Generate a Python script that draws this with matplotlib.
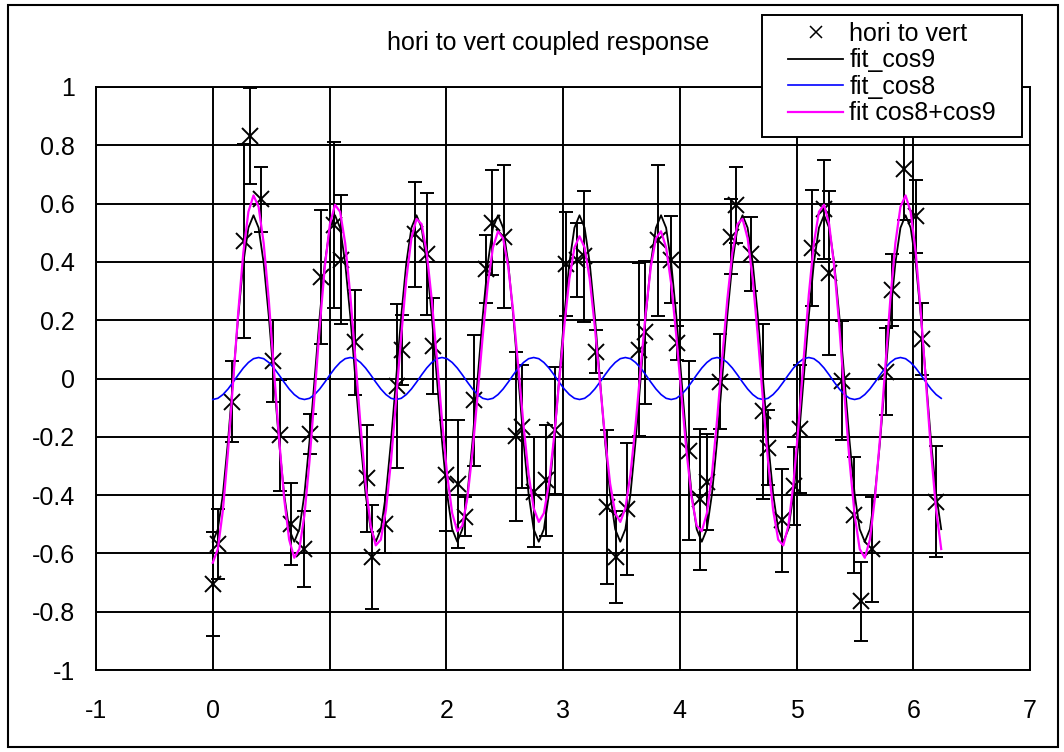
import numpy as np
import matplotlib
matplotlib.use("Agg")
import matplotlib.pyplot as plt
from matplotlib.patches import Rectangle

plt.rcParams['font.family'] = ['Liberation Sans', 'DejaVu Sans']

# ---------------- data ----------------
title = "hori to vert coupled response"
series_names = ["hori to vert", "fit_cos9", "fit_cos8", "fit cos8+cos9"]

x_ticks = [-1, 0, 1, 2, 3, 4, 5, 6, 7]
x_tick_labels = ["-1", "0", "1", "2", "3", "4", "5", "6", "7"]
y_ticks = [-1, -0.8, -0.6, -0.4, -0.2, 0, 0.2, 0.4, 0.6, 0.8, 1]
y_tick_labels = ["-1", "-0.8", "-0.6", "-0.4", "-0.2", "0", "0.2", "0.4", "0.6", "0.8", "1"]

data_x = [0.00, 0.042, 0.164, 0.269, 0.32, 0.411, 0.516, 0.572, 0.666, 0.779,
          0.83, 0.929, 1.04, 1.10, 1.217, 1.317, 1.368, 1.474, 1.574, 1.625,
          1.731, 1.831, 1.888, 2.002, 2.102, 2.16, 2.24, 2.337, 2.394, 2.494,
          2.594, 2.651, 2.751, 2.857, 2.929, 3.029, 3.123, 3.18, 3.28, 3.38,
          3.451, 3.549, 3.649, 3.706, 3.814, 3.929, 3.977, 4.08, 4.171, 4.234,
          4.343, 4.437, 4.486, 4.609, 4.709, 4.76, 4.874, 4.98, 5.031, 5.131,
          5.237, 5.28, 5.389, 5.494, 5.55, 5.65, 5.769, 5.82, 5.92, 6.02,
          6.077, 6.191]
data_y = [-0.705, -0.567, -0.079, 0.472, 0.833, 0.615, 0.059, -0.195, -0.50, -0.586,
          -0.191, 0.349, 0.527, 0.408, 0.125, -0.343, -0.613, -0.50, -0.026, 0.099,
          0.494, 0.428, 0.112, -0.332, -0.362, -0.474, -0.075, 0.375, 0.534, 0.487,
          -0.198, -0.165, -0.389, -0.349, -0.178, 0.393, 0.408, 0.419, 0.092, -0.44,
          -0.613, -0.448, 0.099, 0.158, 0.474, 0.408, 0.121, -0.248, -0.415, -0.356,
          -0.011, 0.487, 0.596, 0.428, -0.112, -0.237, -0.487, -0.369, -0.174, 0.448,
          0.58, 0.362, -0.007, -0.468, -0.764, -0.586, 0.024, 0.303, 0.718, 0.557,
          0.136, -0.422]
data_err = [0.18, 0.12, 0.14, 0.334, 0.165, 0.112, 0.14, 0.19, 0.14, 0.13,
            0.068, 0.23, 0.285, 0.22, 0.18, 0.185, 0.178, 0.10, 0.28, 0.12,
            0.18, 0.21, 0.165, 0.19, 0.22, 0.066, 0.224, 0.117, 0.18, 0.244,
            0.29, 0.21, 0.19, 0.19, 0.217, 0.178, 0.127, 0.225, 0.073, 0.265,
            0.158, 0.227, 0.297, 0.246, 0.26, 0.15, 0.058, 0.307, 0.242, 0.165,
            0.163, 0.13, 0.13, 0.127, 0.3, 0.13, 0.178, 0.135, 0.22, 0.2,
            0.17, 0.28, 0.204, 0.2, 0.135, 0.18, 0.15, 0.123, 0.175, 0.125,
            0.124, 0.19]

fit_cos9 = [
    -0.560, -0.517, -0.396, -0.214, 0.000, 0.214, 0.396, 0.517, 0.560, 0.517, 0.396, 0.214, 0.000, -0.214, -0.396, -0.517,
    -0.560, -0.517, -0.396, -0.214, 0.000, 0.214, 0.396, 0.517, 0.560, 0.517, 0.396, 0.214, 0.000, -0.214, -0.396, -0.517,
    -0.560, -0.517, -0.396, -0.214, 0.000, 0.214, 0.396, 0.517, 0.560, 0.517, 0.396, 0.214, 0.000, -0.214, -0.396, -0.517,
    -0.560, -0.517, -0.396, -0.214, 0.000, 0.214, 0.396, 0.517, 0.560, 0.517, 0.396, 0.214, 0.000, -0.214, -0.396, -0.517,
    -0.560, -0.517, -0.396, -0.214, 0.000, 0.214, 0.396, 0.517, 0.560, 0.517, 0.396, 0.214, 0.000, -0.214, -0.396, -0.517,
    -0.560, -0.517, -0.396, -0.214, 0.000, 0.214, 0.396, 0.517, 0.560, 0.517, 0.396, 0.214, 0.000, -0.214, -0.396, -0.517,
    -0.560, -0.517, -0.396, -0.214, 0.000, 0.214, 0.396, 0.517, 0.560, 0.517, 0.396, 0.214, 0.000, -0.214, -0.396, -0.517,
    -0.560, -0.517, -0.396, -0.214, 0.000, 0.214, 0.396, 0.517, 0.560, 0.517, 0.396, 0.214, 0.000, -0.214, -0.396, -0.517,
    -0.560, -0.517, -0.396, -0.214, 0.000, 0.214, 0.396, 0.517, 0.560, 0.517, 0.396, 0.214, 0.000, -0.214, -0.396, -0.517,
]
fit_cos8 = [
    -0.072, -0.068, -0.055, -0.036, -0.0125, 0.0125, 0.036, 0.055, 0.068, 0.072, 0.068, 0.055, 0.036, 0.0125, -0.0125, -0.036, -0.055, -0.068,
    -0.072, -0.068, -0.055, -0.036, -0.0125, 0.0125, 0.036, 0.055, 0.068, 0.072, 0.068, 0.055, 0.036, 0.0125, -0.0125, -0.036, -0.055, -0.068,
    -0.072, -0.068, -0.055, -0.036, -0.0125, 0.0125, 0.036, 0.055, 0.068, 0.072, 0.068, 0.055, 0.036, 0.0125, -0.0125, -0.036, -0.055, -0.068,
    -0.072, -0.068, -0.055, -0.036, -0.0125, 0.0125, 0.036, 0.055, 0.068, 0.072, 0.068, 0.055, 0.036, 0.0125, -0.0125, -0.036, -0.055, -0.068,
    -0.072, -0.068, -0.055, -0.036, -0.0125, 0.0125, 0.036, 0.055, 0.068, 0.072, 0.068, 0.055, 0.036, 0.0125, -0.0125, -0.036, -0.055, -0.068,
    -0.072, -0.068, -0.055, -0.036, -0.0125, 0.0125, 0.036, 0.055, 0.068, 0.072, 0.068, 0.055, 0.036, 0.0125, -0.0125, -0.036, -0.055, -0.068,
    -0.072, -0.068, -0.055, -0.036, -0.0125, 0.0125, 0.036, 0.055, 0.068, 0.072, 0.068, 0.055, 0.036, 0.0125, -0.0125, -0.036, -0.055, -0.068,
    -0.072, -0.068, -0.055, -0.036, -0.0125, 0.0125, 0.036, 0.055, 0.068, 0.072, 0.068, 0.055, 0.036, 0.0125, -0.0125, -0.036, -0.055, -0.068,
]
fit_cos8_cos9 = [
    -0.632, -0.585, -0.451, -0.250, -0.0125, 0.2265, 0.432, 0.572, 0.628, 0.589, 0.464, 0.269, 0.036, -0.2015, -0.4085, -0.553,
    -0.615, -0.585, -0.468, -0.282, -0.055, 0.178, 0.3835, 0.5295, 0.596, 0.572, 0.464, 0.286, 0.068, -0.159, -0.360, -0.5045,
    -0.5725, -0.553, -0.451, -0.282, -0.072, 0.146, 0.341, 0.481, 0.5475, 0.5295, 0.432, 0.269, 0.068, -0.142, -0.328, -0.462,
    -0.524, -0.5045, -0.4085, -0.250, -0.055, 0.146, 0.324, 0.449, 0.505, 0.481, 0.3835, 0.2265, 0.036, -0.159, -0.328, -0.445,
    -0.492, -0.462, -0.360, -0.2015, -0.0125, 0.178, 0.341, 0.449, 0.488, 0.449, 0.341, 0.178, -0.0125, -0.2015, -0.360, -0.462,
    -0.492, -0.445, -0.328, -0.159, 0.036, 0.2265, 0.3835, 0.481, 0.505, 0.449, 0.324, 0.146, -0.055, -0.250, -0.4085, -0.5045,
    -0.524, -0.462, -0.328, -0.142, 0.068, 0.269, 0.432, 0.5295, 0.5475, 0.481, 0.341, 0.146, -0.072, -0.282, -0.451, -0.553,
    -0.5725, -0.5045, -0.360, -0.159, 0.068, 0.286, 0.464, 0.572, 0.596, 0.5295, 0.3835, 0.178, -0.055, -0.282, -0.468, -0.585,
    -0.615, -0.553, -0.4085, -0.2015, 0.036, 0.269, 0.464, 0.589, 0.628, 0.572, 0.432, 0.2265, -0.0125, -0.250, -0.451, -0.585,
]
fit_x_start, fit_x_end = 0.0, 6.2395
fit_x = np.linspace(fit_x_start, fit_x_end, len(fit_cos9))

# ---------------- figure ----------------
W, H = 1064, 752
FS = 18
fig = plt.figure(figsize=(W / 100, H / 100), dpi=100)
fig.patch.set_facecolor('white')

ax = fig.add_axes([96 / W, 1 - 670 / H, (1030 - 96) / W, (670 - 87) / H])
ax.set_xlim(-1, 7)
ax.set_ylim(-1, 1)
ax.set_xticks(x_ticks)
ax.set_xticklabels(x_tick_labels)
ax.set_yticks(y_ticks)
ax.set_yticklabels(y_tick_labels)
ax.tick_params(length=0, labelsize=FS, colors='black')
ax.tick_params(axis='x', pad=21)
ax.tick_params(axis='y', pad=15)
ax.grid(True, color='black', linewidth=1.4)
ax.set_axisbelow(True)
for sp in ax.spines.values():
    sp.set_color('black')
    sp.set_linewidth(1.4)

ax.errorbar(data_x, data_y, yerr=data_err, fmt='none', ecolor='black',
            elinewidth=1.4, capsize=4.7, capthick=1.4, zorder=2)
h_pts, = ax.plot(data_x, data_y, linestyle='none', marker='x', markersize=12,
                 markeredgewidth=1.4, color='black', zorder=3)
h9, = ax.plot(fit_x, fit_cos9, color='black', linewidth=1.3, zorder=4)
h8, = ax.plot(fit_x, fit_cos8, color='#0000FF', linewidth=1.2, zorder=4)
hs, = ax.plot(fit_x, fit_cos8_cos9, color='#FF00FF', linewidth=1.6, zorder=5)

fig.text(548 / W, 1 - 43 / H, title, ha='center', va='center', fontsize=FS)

# legend box
fig.add_artist(Rectangle((762 / W, 1 - 137 / H), 260 / W, 122 / H,
                         transform=fig.transFigure, facecolor='white',
                         edgecolor='black', linewidth=1.4, zorder=3))
h_leg_pts, = ax.plot([], [], linestyle='none', marker='x', markersize=9,
                     markeredgewidth=1.1, color='black')
leg = fig.legend([h_leg_pts, h9, h8, hs], series_names, loc='upper left',
                 bbox_to_anchor=(788 / W, 1 - 22 / H), bbox_transform=fig.transFigure,
                 frameon=False, fontsize=FS, borderpad=0, borderaxespad=0,
                 handlelength=2.2, handletextpad=0.25, labelspacing=0.1)
leg.set_zorder(6)

# outer border
fig.add_artist(Rectangle((8 / W, 1 - 747 / H), (1058 - 8) / W, (747 - 5) / H,
                         transform=fig.transFigure, fill=False,
                         edgecolor='black', linewidth=1.5, zorder=10))

fig.savefig("out.png", dpi=100)
